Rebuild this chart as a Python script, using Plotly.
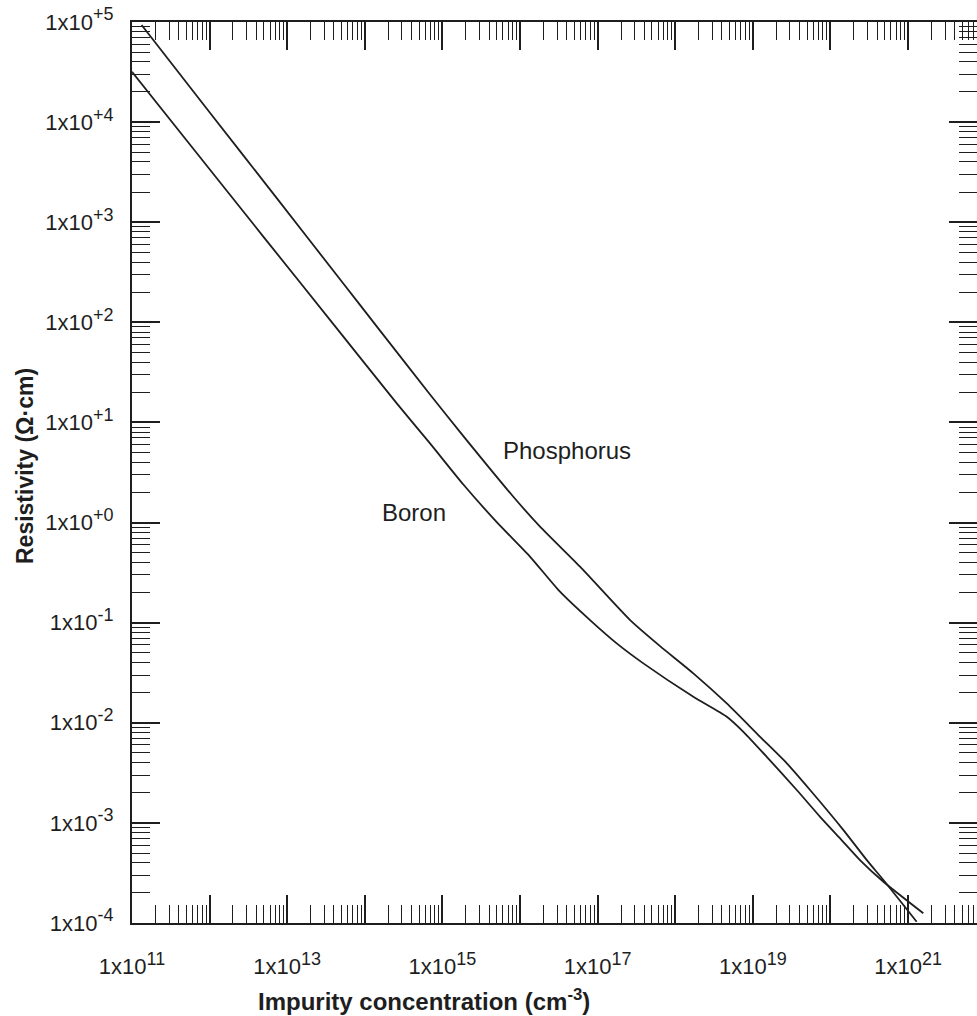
import plotly.graph_objects as go

# ---- data ----
phosphorus_n = [1.33e11, 1.01e12, 7.33e12, 5.28e13, 1.49e14, 6.92e14, 1.86e15, 8.20e15,
                1.81e16, 5.93e16, 2.62e17, 6.37e17, 1.71e18, 4.61e18, 1.24e19, 2.74e19,
                5.46e19, 1.47e20, 2.94e20, 4.81e20, 1.29e21]
phosphorus_rho = [9.33e4, 1.24e4, 1.74e3, 244, 87.1, 19.0, 7.30, 1.81,
                  0.910, 0.362, 0.106, 0.0583, 0.0312, 0.0156, 0.00724, 0.00393,
                  0.00213, 8.47e-4, 4.25e-4, 2.69e-4, 1.03e-4]

boron_n = [1.0e11, 5.07e11, 4.92e12, 4.35e13, 2.58e14, 6.92e14, 1.86e15, 5.01e15,
           1.35e16, 3.27e16, 7.98e16, 1.76e17, 3.88e17, 1.71e18, 4.61e18, 7.55e18,
           1.51e19, 3.68e19, 7.35e19, 1.33e20, 2.40e20, 4.81e20, 1.57e21]
boron_rho = [3.18e4, 6.55e3, 719, 87.1, 15.5, 6.18, 2.40, 1.01,
             0.455, 0.204, 0.106, 0.0621, 0.0392, 0.0182, 0.0115, 0.00813,
             0.00457, 0.00213, 0.00115, 7.00e-4, 4.25e-4, 2.58e-4, 1.25e-4]

x_exponents = list(range(11, 23))
y_exponents = list(range(-4, 6))
SUP = "<sup><span style='font-size:18px'>{}</span></sup>"
x_tick_labels = ["1x10" + SUP.format(e) if e % 2 == 1 else "" for e in x_exponents]
y_tick_labels = ["1x10" + SUP.format(("+" if e >= 0 else "-") + str(abs(e)))
                 for e in y_exponents]

x_title = "Impurity concentration (cm<sup>-3</sup>)"
y_title = "Resistivity (\u03a9\u00b7cm)"

# ---- figure ----
FONT = "Liberation Sans, Arial, Helvetica, sans-serif"
INK = "#1e1e1e"
W, H = 977, 1016
L, R, T, B = 132, 0, 22, 93

x_range = [11, 21.888]
y_range = [-4, 5]

x_major = [10.0 ** e for e in x_exponents]
y_major = [10.0 ** e for e in y_exponents]
x_minor = [k * 10.0 ** e for e in range(11, 22) for k in range(2, 10)]
y_minor = [k * 10.0 ** e for e in range(-4, 5) for k in range(2, 10)]

fig = go.Figure()
line_style = dict(color=INK, width=1.8, shape="spline", smoothing=0.6)
fig.add_trace(go.Scatter(x=phosphorus_n, y=phosphorus_rho, mode="lines",
                         line=line_style, name="Phosphorus", showlegend=False))
fig.add_trace(go.Scatter(x=boron_n, y=boron_rho, mode="lines",
                         line=line_style, name="Boron", showlegend=False))
# empty trace to host the mirrored tick axes
fig.add_trace(go.Scatter(x=[], y=[], xaxis="x2", yaxis="y2", showlegend=False,
                         hoverinfo="skip"))

tick_common = dict(ticks="inside", ticklen=28, tickwidth=1.5, tickcolor=INK)
minor_x = dict(tickmode="array", tickvals=x_minor, ticks="inside", ticklen=18,
               tickwidth=1.3, tickcolor=INK, showgrid=False)
minor_y = dict(tickmode="array", tickvals=y_minor, ticks="inside", ticklen=18,
               tickwidth=1.3, tickcolor=INK, showgrid=False)

fig.update_layout(
    width=W, height=H,
    margin=dict(l=L, r=R, t=T, b=B, pad=0),
    paper_bgcolor="white", plot_bgcolor="white",
    font=dict(family=FONT, size=22, color=INK),
    xaxis=dict(type="log", range=x_range, showgrid=False, zeroline=False,
               showline=True, linecolor=INK, linewidth=2, mirror=True,
               tickmode="array", tickvals=x_major, ticktext=x_tick_labels,
               ticklabelstandoff=23, tickfont=dict(size=22, family=FONT, color=INK),
               minor=minor_x, **tick_common),
    yaxis=dict(type="log", range=y_range, showgrid=False, zeroline=False,
               showline=True, linecolor=INK, linewidth=2,
               tickmode="array", tickvals=y_major, ticktext=y_tick_labels,
               ticklabelstandoff=12, tickfont=dict(size=22, family=FONT, color=INK),
               minor=minor_y, **tick_common),
    xaxis2=dict(type="log", range=x_range, overlaying="x", side="top", anchor="y2",
                showgrid=False, zeroline=False, showline=False, showticklabels=False,
                tickmode="array", tickvals=x_major, minor=minor_x, **tick_common),
    yaxis2=dict(type="log", range=y_range, overlaying="y", side="right", anchor="x2",
                showgrid=False, zeroline=False, showline=False, showticklabels=False,
                tickmode="array", tickvals=y_major, minor=minor_y, **tick_common),
    annotations=[
        dict(text="Phosphorus", x=16.611, y=0.724, xref="x", yref="y",
             showarrow=False, font=dict(size=24, family=FONT, color=INK),
             xanchor="center", yanchor="middle"),
        dict(text="Boron", x=14.638, y=0.100, xref="x", yref="y",
             showarrow=False, font=dict(size=24, family=FONT, color=INK),
             xanchor="center", yanchor="middle"),
        dict(text=f"<b>{x_title}</b>", x=(424 - L) / (W - L), y=(923 - 1000) / 901,
             xref="paper", yref="paper", showarrow=False,
             font=dict(size=24, family=FONT, color=INK),
             xanchor="center", yanchor="middle"),
        dict(text=f"<b>{y_title}</b>", x=(25 - L) / (W - L), y=(923 - 466) / 901,
             xref="paper", yref="paper", showarrow=False, textangle=-90,
             font=dict(size=23, family=FONT, color=INK),
             xanchor="center", yanchor="middle"),
    ],
)

fig.write_html("out.html")
